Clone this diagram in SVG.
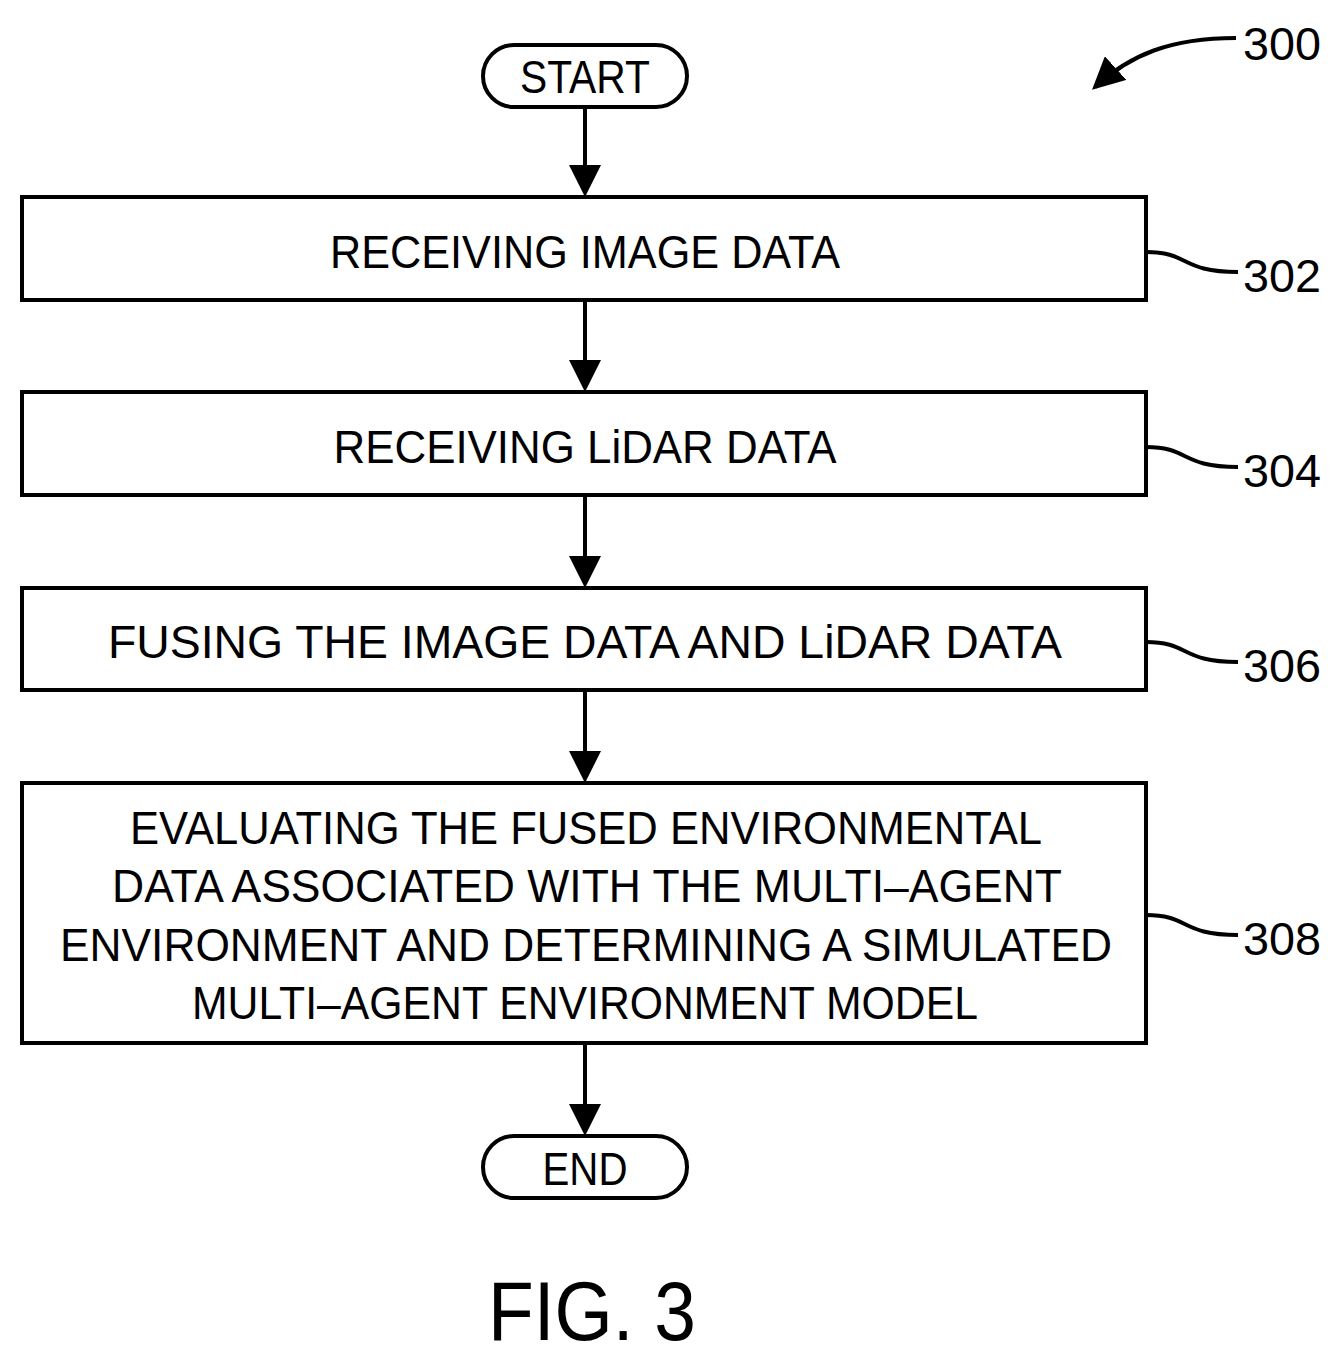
<svg xmlns="http://www.w3.org/2000/svg" width="1341" height="1364" viewBox="0 0 1341 1364">
<defs>
<style>
.b{fill:#fff;stroke:#000;stroke-width:4}
.c{fill:none;stroke:#000;stroke-width:4}
text{font-family:"Liberation Sans",Arial,sans-serif;font-size:46px;fill:#000;text-anchor:middle}
</style>
<marker id="a" markerWidth="8" markerHeight="8" refX="7" refY="4" orient="auto" markerUnits="strokeWidth"><path d="M0,0 L8,4 L0,8 Z" fill="#000"/></marker>
</defs>
<rect width="1341" height="1364" fill="#fff"/>
<g id="start"><rect class="b" x="483" y="45" width="204" height="62" rx="31"/><text x="585" y="93" textLength="130" lengthAdjust="spacingAndGlyphs">START</text></g>
<g id="n302"><rect class="b" x="22" y="197" width="1124" height="103"/><text x="585" y="268" textLength="510" lengthAdjust="spacingAndGlyphs">RECEIVING  IMAGE  DATA</text></g>
<g id="n304"><rect class="b" x="22" y="392" width="1124" height="103"/><text x="585" y="463" textLength="503" lengthAdjust="spacingAndGlyphs">RECEIVING  LiDAR  DATA</text></g>
<g id="n306"><rect class="b" x="22" y="588" width="1124" height="102"/><text x="585" y="658" textLength="954" lengthAdjust="spacingAndGlyphs">FUSING  THE  IMAGE  DATA  AND  LiDAR  DATA</text></g>
<g id="n308"><rect class="b" x="22" y="783" width="1124" height="260"/>
<text x="586" y="844" textLength="912" lengthAdjust="spacingAndGlyphs">EVALUATING  THE  FUSED  ENVIRONMENTAL</text>
<text x="587" y="902" textLength="950" lengthAdjust="spacingAndGlyphs">DATA  ASSOCIATED  WITH  THE  MULTI–AGENT</text>
<text x="586" y="961" textLength="1052" lengthAdjust="spacingAndGlyphs">ENVIRONMENT  AND  DETERMINING  A  SIMULATED</text>
<text x="585" y="1019" textLength="786" lengthAdjust="spacingAndGlyphs">MULTI–AGENT  ENVIRONMENT  MODEL</text></g>
<g id="end"><rect class="b" x="483" y="1136" width="204" height="62" rx="31"/><text x="585" y="1185" textLength="85" lengthAdjust="spacingAndGlyphs">END</text></g>
<g id="connectors">
<path class="c" d="M585,107 V193" marker-end="url(#a)"/>
<path class="c" d="M585,300 V388" marker-end="url(#a)"/>
<path class="c" d="M585,495 V584" marker-end="url(#a)"/>
<path class="c" d="M585,690 V779" marker-end="url(#a)"/>
<path class="c" d="M585,1043 V1132" marker-end="url(#a)"/>
<path class="c" d="M1146,252 C1190,252 1180,272 1238,272"/>
<path class="c" d="M1146,447 C1190,447 1180,467 1238,467"/>
<path class="c" d="M1146,642 C1190,642 1180,662 1238,662"/>
<path class="c" d="M1146,915 C1190,915 1180,935 1238,935"/>
<path class="c" d="M1236,38 C1170,38 1130,55 1095,87" marker-end="url(#a)"/>
</g>
<g id="labels">
<text x="1282" y="60" textLength="78" lengthAdjust="spacingAndGlyphs">300</text>
<text x="1282" y="292" textLength="78" lengthAdjust="spacingAndGlyphs">302</text>
<text x="1282" y="487" textLength="78" lengthAdjust="spacingAndGlyphs">304</text>
<text x="1282" y="682" textLength="78" lengthAdjust="spacingAndGlyphs">306</text>
<text x="1282" y="955" textLength="78" lengthAdjust="spacingAndGlyphs">308</text>
<text x="592" y="1340" style="font-size:84px" textLength="208" lengthAdjust="spacingAndGlyphs">FIG. 3</text>
</g>
</svg>
